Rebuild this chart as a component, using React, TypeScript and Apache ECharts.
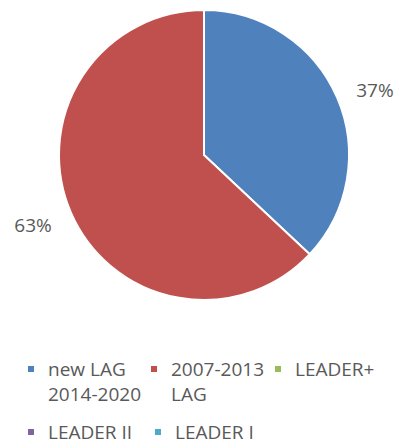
import React, { useEffect, useRef } from "react";
import * as echarts from "echarts";

const categories = ["new LAG\n2014-2020", "2007-2013\nLAG", "LEADER+", "LEADER II", "LEADER I"];
const values = [37, 63, 0, 0, 0];
const colors = ["#4F81BD", "#C0504D", "#9BBB59", "#8064A2", "#4BACC6"];
const legendLeft = [28, 151, 275, 28, 155];
const legendCenterY = [369, 369, 369, 432, 432];
const labelShiftY = [-3, 8, 0, 0, 0];

export default function App() {
  const ref = useRef<HTMLDivElement>(null);
  useEffect(() => {
    if (!ref.current) return;
    const chart = echarts.init(ref.current, null, { renderer: "svg" });
    const font = "'Open Sans', 'Noto Sans', sans-serif";
    const legends = categories.map((name, i) => {
      const multi = name.includes("\n");
      const lineH = multi ? 25 : 20;
      const ih = multi ? 6 + lineH : 6;
      return {
        left: legendLeft[i],
        top: legendCenterY[i] - lineH / 2,
        padding: 0,
        itemWidth: 6,
        itemHeight: ih,
        selectedMode: false,
        itemStyle: { borderWidth: 0 },
        data: [
          {
            name,
            icon: multi ? `path://M0,0H6V6H0Z M0,${ih}L0.001,${ih}` : "rect",
          },
        ],
        textStyle: {
          fontFamily: font,
          fontSize: 19,
          lineHeight: lineH,
          color: "#595959",
          padding: [0, 0, 0, 9],
        },
      };
    });
    chart.setOption({
      animation: false,
      color: colors,
      legend: legends,
      series: [
        {
          type: "pie",
          center: [204, 155],
          radius: 145,
          startAngle: 90,
          avoidLabelOverlap: false,
          itemStyle: { borderColor: "#ffffff", borderWidth: 2 },
          label: {
            show: true,
            position: "outside",
            fontFamily: font,
            fontSize: 19,
            color: "#595959",
            formatter: (p: any) => Math.round(p.percent) + "%",
          },
          labelLine: { show: false, length: 10, length2: 5 },
          labelLayout: (p: any) => ({ dy: labelShiftY[p.dataIndex] || 0 }),
          data: categories.map((name, i) => ({
            name,
            value: values[i],
            label: { show: values[i] > 0 },
          })),
        },
      ],
    });
    return () => chart.dispose();
  }, []);
  return (
    <div
      ref={ref}
      style={{ position: "fixed", left: 0, top: 0, width: 394, height: 444, background: "#fff" }}
    />
  );
}
